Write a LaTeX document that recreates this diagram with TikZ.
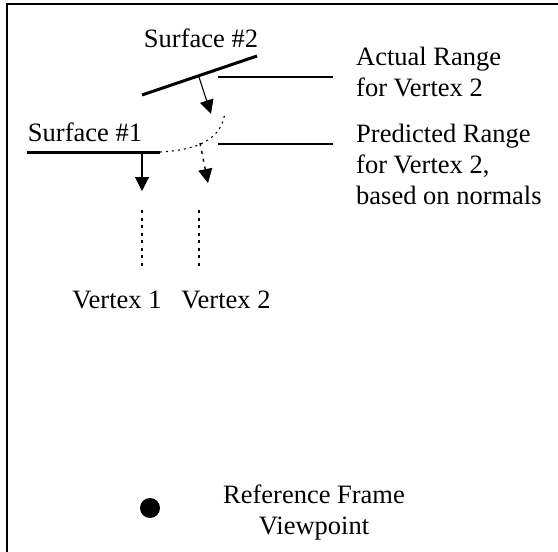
\documentclass[tikz,border=0pt]{standalone}
\usepackage{fontspec}
\setmainfont{Liberation Serif}
\usetikzlibrary{arrows.meta}

\begin{document}
\begin{tikzpicture}[x=1pt,y=-1pt]
\tikzstyle{every node}=[inner sep=0pt,font=\fontsize{26.5}{31}\selectfont]
\tikzstyle{surf}=[line width=3pt]
\tikzstyle{thin}=[line width=1.1pt]
\tikzstyle{normal}=[line width=1.1pt,-{Triangle[length=14pt,width=14pt]}]
\tikzstyle{guess}=[line width=1.4pt,dash pattern=on 3pt off 5pt,-{Triangle[length=14pt,width=14pt]}]
\useasboundingbox (0,0) rectangle (558,552);
% frame
\draw [line width=1.5pt] (7,552) -- (7,4) -- (558,4);
% surfaces
\coordinate (s2a) at (142,95);
\coordinate (s2b) at (257,56);
\coordinate (s1a) at (27,152);
\coordinate (s1b) at (160,152);
\draw [surf] (s2a) -- (s2b);
\draw [surf] (s1a) -- (s1b);
\node (s2) at (201,38) {Surface \#2};
\node (s1) at (85,132) {Surface \#1};
% normals
\coordinate (n2a) at (199,77);
\coordinate (n2b) at (211,114);
\coordinate (n1a) at (142,152);
\coordinate (n1b) at (142,191);
\coordinate (n3a) at (200,143);
\coordinate (n3b) at (208,183);
\draw [normal] (n2a) -- (n2b);
\draw [normal] (n1a) -- (n1b);
\draw [guess] (n3a) -- (n3b);
% predicted range
\coordinate (arc) at (225,112);
\draw [thin,dash pattern=on 2pt off 4pt] (s1b) .. controls (200,150) and (222,138) .. (arc);
% vertex lines
\coordinate (v1a) at (142,210);
\coordinate (v1b) at (142,266);
\coordinate (v2a) at (199,210);
\coordinate (v2b) at (199,266);
\draw [line width=2pt,dash pattern=on 3pt off 4.5pt] (v1a) -- (v1b);
\draw [line width=2pt,dash pattern=on 3pt off 4.5pt] (v2a) -- (v2b);
\node (v1) at (117,300) {Vertex 1};
\node (v2) at (226,300) {Vertex 2};
% labels
\coordinate (l1a) at (218,77);
\coordinate (l1b) at (333,77);
\coordinate (l2a) at (218,144);
\coordinate (l2b) at (333,144);
\draw [thin] (l1a) -- (l1b);
\draw [thin] (l2a) -- (l2b);
\node (actual) [anchor=north west,align=left] at (356,47) {Actual Range\\for Vertex 2};
\node (pred) [anchor=north west,align=left] at (356,124) {Predicted Range\\for Vertex 2,\\based on normals};
% viewpoint
\fill (150,508) circle (10);
\node (view) [align=center] at (314,512) {Reference Frame\\Viewpoint};
\end{tikzpicture}
\end{document}
